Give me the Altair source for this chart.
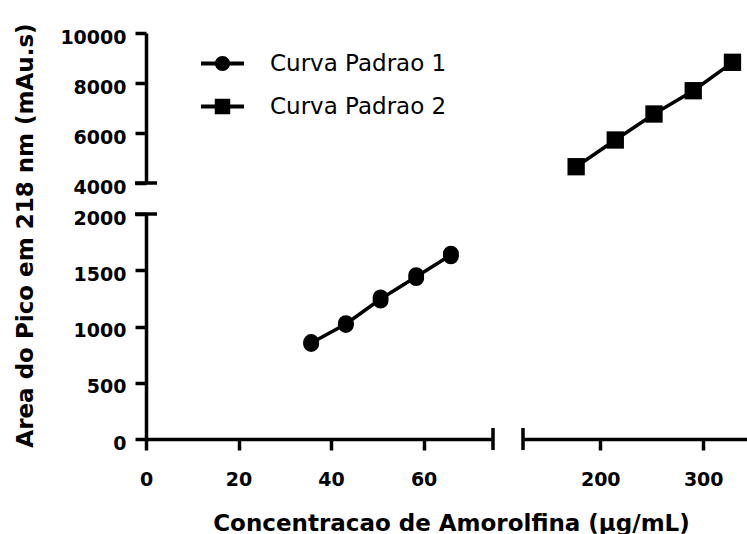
import altair as alt
import pandas as pd

FONT = "DejaVu Sans"

# Curva Padrao 1: duplicate injections at each concentration level
curve1_conc = [35.7, 35.7, 43.2, 43.2, 50.7, 50.7, 58.4, 58.4, 65.9, 65.9]
curve1_area = [845, 862, 1014, 1030, 1230, 1258, 1430, 1456, 1624, 1648]

# Curva Padrao 2
curve2_conc = [176.6, 214.6, 252.2, 290.3, 328.4]
curve2_area = [4652, 5720, 6760, 7692, 8828]

series_names = ["Curva Padrao 1", "Curva Padrao 2"]

# Broken axes: two x segments and two y segments
x_low_domain = [0, 75]
x_high_domain = [125, 342.5]
y_low_domain = [0, 2000]
y_high_domain = [4000, 10000]

x_low_ticks = [0, 20, 40, 60]
x_high_ticks = [200, 300]
y_low_ticks = [0, 500, 1000, 1500, 2000]
y_high_ticks = [4000, 6000, 8000, 10000]

x_title = "Concentracao de Amorolfina (µg/mL)"
y_title = "Area do Pico em 218 nm (mAu.s)"

# Legend symbols: a short line with the series marker on it (unit box -1..1)
SYM_CIRCLE = ("M-1,-0.093H1V0.093H-1Z "
              "M0,-0.35A0.35,0.35 0 1 1 0,0.35A0.35,0.35 0 1 1 0,-0.35Z")
SYM_SQUARE = "M-1,-0.093H1V0.093H-1Z M-0.36,-0.36H0.36V0.36H-0.36Z"

df1 = pd.DataFrame({"conc": curve1_conc, "area": curve1_area,
                    "series": series_names[0]})
df2 = pd.DataFrame({"conc": curve2_conc, "area": curve2_area,
                    "series": series_names[1]})
legend_df = pd.DataFrame({"series": series_names})

# Break caps where each axis segment ends
cap_x_low = pd.DataFrame({"conc": [x_low_domain[1]], "area": [y_low_domain[0]]})
cap_x_high = pd.DataFrame({"conc": [x_high_domain[0]], "area": [y_low_domain[0]]})
cap_y_low = pd.DataFrame({"conc": [x_low_domain[0]], "area": [y_low_domain[1]]})
cap_y_high = pd.DataFrame({"conc": [x_low_domain[0]], "area": [y_high_domain[0]]})

LW = 3.5


def xs(domain):
    return alt.Scale(domain=domain, nice=False, zero=False)


def ys(domain):
    return alt.Scale(domain=domain, nice=False, zero=False)


x_axis_low = alt.Axis(values=x_low_ticks, format="d", title=x_title,
                      titleX=305, titleY=91, titleAlign="center",
                      titleBaseline="alphabetic")
x_axis_high = alt.Axis(values=x_high_ticks, format="d", title=None)
y_axis_low = alt.Axis(values=y_low_ticks, format="d", title=y_title,
                      titleAngle=270, titleX=-114, titleY=21,
                      titleAlign="center", titleBaseline="alphabetic")
y_axis_high = alt.Axis(values=y_high_ticks, format="d", title=None)

W_LEFT, W_RIGHT = 347, 224
H_TOP, H_BOTTOM = 150, 225


def vcap(df, xdom, ydom, xaxis, yaxis):
    return alt.Chart(df).mark_tick(orient="vertical", size=22, thickness=LW,
                                   color="black", opacity=1).encode(
        x=alt.X("conc:Q", scale=xs(xdom), axis=xaxis),
        y=alt.Y("area:Q", scale=ys(ydom), axis=yaxis))


def hcap(df, xdom, ydom, xaxis, yaxis):
    return alt.Chart(df).mark_tick(orient="horizontal", size=22, thickness=LW,
                                   color="black", opacity=1).encode(
        x=alt.X("conc:Q", scale=xs(xdom), axis=xaxis),
        y=alt.Y("area:Q", scale=ys(ydom), axis=yaxis))


# Upper left: upper y segment + legend
legend_layer = alt.Chart(legend_df).mark_point(
    filled=True, color="black", opacity=0).encode(
    x=alt.value(0), y=alt.value(0),
    shape=alt.Shape("series:N",
                    scale=alt.Scale(domain=series_names,
                                    range=[SYM_CIRCLE, SYM_SQUARE]),
                    legend=alt.Legend(title=None, orient="none",
                                      legendX=55, legendY=9,
                                      symbolSize=1849, symbolOpacity=1,
                                      symbolFillColor="black",
                                      symbolStrokeWidth=0,
                                      labelFont=FONT, labelFontSize=23,
                                      labelColor="black", labelOffset=26,
                                      labelLimit=400, rowPadding=9,
                                      padding=0)))

upper_left = alt.layer(
    hcap(cap_y_high, x_low_domain, y_high_domain, None, y_axis_high),
    legend_layer,
).properties(width=W_LEFT, height=H_TOP)

# Upper right: Curva Padrao 2
line2 = alt.Chart(df2).mark_line(color="black", strokeWidth=LW).encode(
    x=alt.X("conc:Q", scale=xs(x_high_domain), axis=None),
    y=alt.Y("area:Q", scale=ys(y_high_domain), axis=None))
pts2 = alt.Chart(df2).mark_point(shape="square", filled=True, color="black",
                                 opacity=1, size=300).encode(
    x=alt.X("conc:Q", scale=xs(x_high_domain), axis=None),
    y=alt.Y("area:Q", scale=ys(y_high_domain), axis=None))
upper_right = alt.layer(line2, pts2).properties(width=W_RIGHT, height=H_TOP)

# Lower left: Curva Padrao 1
line1 = alt.Chart(df1).mark_line(color="black", strokeWidth=LW).encode(
    x=alt.X("conc:Q", scale=xs(x_low_domain), axis=x_axis_low),
    y=alt.Y("mean(area):Q", scale=ys(y_low_domain), axis=y_axis_low))
pts1 = alt.Chart(df1).mark_point(shape="circle", filled=True, color="black",
                                 opacity=1, size=254).encode(
    x=alt.X("conc:Q", scale=xs(x_low_domain), axis=x_axis_low),
    y=alt.Y("area:Q", scale=ys(y_low_domain), axis=y_axis_low))
lower_left = alt.layer(
    line1, pts1,
    vcap(cap_x_low, x_low_domain, y_low_domain, x_axis_low, y_axis_low),
    hcap(cap_y_low, x_low_domain, y_low_domain, x_axis_low, y_axis_low),
).properties(width=W_LEFT, height=H_BOTTOM)

# Lower right: upper x segment only
lower_right = vcap(cap_x_high, x_high_domain, y_low_domain, x_axis_high,
                   None).properties(width=W_RIGHT, height=H_BOTTOM)

chart = alt.concat(
    upper_left, upper_right, lower_left, lower_right,
    columns=2, spacing=alt.RowColnumber(row=31, column=30),
    bounds="flush", align="each",
).properties(
    padding={"left": 13, "top": 22, "right": 0, "bottom": 0},
    background="white",
).configure_view(
    strokeWidth=0
).configure_axis(
    domainColor="black", domainWidth=LW, tickColor="black", tickWidth=LW,
    tickSize=11, grid=False, labelFont=FONT, labelFontSize=19,
    labelFontWeight="bold", labelColor="black", labelFlush=False,
    labelOverlap=False, labelBound=False, titleFont=FONT, titleFontSize=23,
    titleFontWeight="bold", titleColor="black",
).configure_axisX(
    labelBaseline="alphabetic", labelPadding=35,
).configure_axisY(
    labelBaseline="middle", labelPadding=9, labelOffset=4,
)

chart.save("out.html", embed_options={"renderer": "svg", "actions": False})
